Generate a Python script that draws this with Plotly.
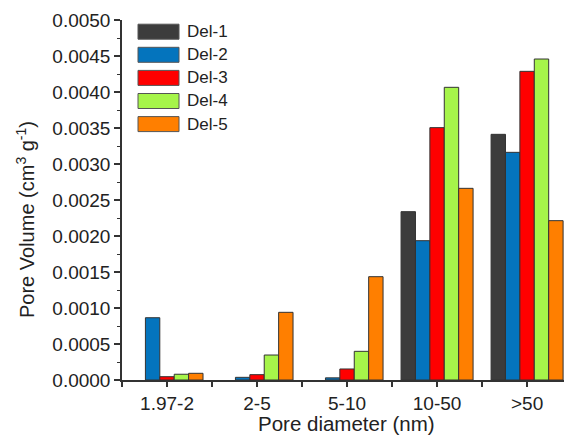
import plotly.graph_objects as go

categories = ["1.97-2", "2-5", "5-10", "10-50", ">50"]
series_names = ["Del-1", "Del-2", "Del-3", "Del-4", "Del-5"]
del1 = [0.0, 0.0, 0.0, 0.002338, 0.003412]
del2 = [0.000865, 0.000037, 0.00003, 0.001935, 0.003162]
del3 = [0.000046, 0.000074, 0.000153, 0.003505, 0.004287]
del4 = [0.00008, 0.000347, 0.000398, 0.004065, 0.004458]
del5 = [0.000093, 0.00094, 0.001435, 0.002662, 0.002213]
series_values = [del1, del2, del3, del4, del5]
colors = ["#3c3c3c", "#0474bd", "#ff0000", "#a6f54a", "#ff7f00"]

W, H = 564, 435
L, R, T, B = 122, 0, 20, 55
pw, ph = W - L - R, H - T - B

x_pos = list(range(len(categories)))
FONT = "Liberation Sans, Arial, sans-serif"

fig = go.Figure()
for name, vals, col in zip(series_names, series_values, colors):
    fig.add_trace(go.Bar(
        x=x_pos, y=vals, name=name,
        marker=dict(color=col,
                    line=dict(color="#333333",
                              width=[1 if v > 0 else 0 for v in vals])),
        showlegend=False,
    ))

# custom legend (wide boxes like the original)
def px_x(p):
    return (p - L) / pw

def px_y(p):
    return (H - B - p) / ph

leg_top = 31.7
leg_step = 23.1
for i, (name, col) in enumerate(zip(series_names, colors)):
    cy = leg_top + i * leg_step
    fig.add_shape(type="rect", xref="paper", yref="paper",
                  x0=px_x(138), x1=px_x(179), y0=px_y(cy + 7.5), y1=px_y(cy - 7.5),
                  fillcolor=col, line=dict(color="#555555", width=1))
    fig.add_annotation(xref="paper", yref="paper", x=px_x(185), y=px_y(cy),
                       text=name, showarrow=False, xanchor="left", yanchor="middle",
                       font=dict(family=FONT, size=17, color="#222222"))

fig.add_annotation(xref="paper", yref="paper", x=px_x(25), y=px_y(220),
                   text="Pore Volume (cm<sup>3</sup> g<sup>-1</sup>)", textangle=-90,
                   showarrow=False, xanchor="center", yanchor="middle",
                   font=dict(family=FONT, size=20, color="#222222"))
fig.add_annotation(xref="paper", yref="paper", x=px_x(346), y=px_y(423),
                   text="Pore diameter (nm)",
                   showarrow=False, xanchor="center", yanchor="middle",
                   font=dict(family=FONT, size=20.5, color="#222222"))

fig.update_layout(
    width=W, height=H,
    margin=dict(l=L, r=R, t=T, b=B, pad=0),
    paper_bgcolor="white", plot_bgcolor="white",
    barmode="group", bargap=0.2, bargroupgap=0,
    font=dict(family=FONT, color="#222222"),
)
fig.update_xaxes(
    range=[-0.5, 4.41], tickvals=x_pos, ticktext=categories,
    showgrid=False, zeroline=False, showline=True, linecolor="#333333", linewidth=1.5,
    ticks="outside", ticklen=5, tickcolor="#333333", tickwidth=1.5,
    tickfont=dict(family=FONT, size=19, color="#222222"),
    minor=dict(tickvals=[-0.5, 0.5, 1.5, 2.5, 3.5], ticks="outside", ticklen=5,
               tickcolor="#333333", tickwidth=1.5),
)
fig.update_yaxes(
    range=[0, 0.005], dtick=0.0005, tickformat=".4f",
    showgrid=False, zeroline=False, showline=True, linecolor="#333333", linewidth=1.5,
    ticks="outside", ticklen=6, tickcolor="#333333", tickwidth=1.5,
    tickfont=dict(family=FONT, size=19, color="#222222"),
    minor=dict(dtick=0.00025, ticks="outside", ticklen=3, tickcolor="#333333", tickwidth=1),
)

fig.write_html("out.html")
